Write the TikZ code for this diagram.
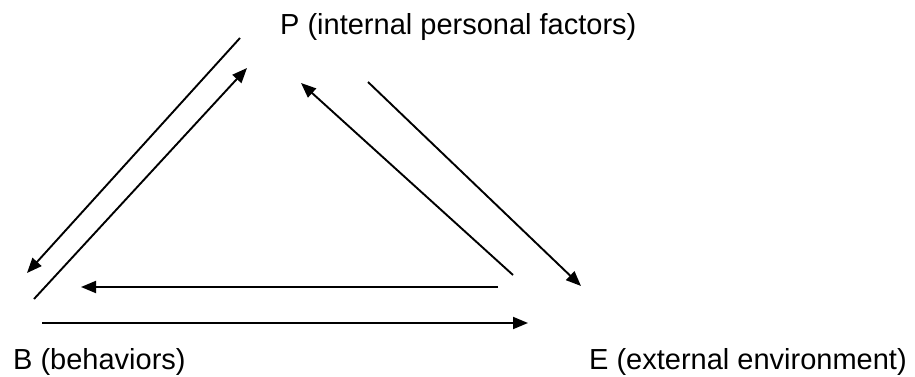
\documentclass[tikz,border=0pt]{standalone}
\usepackage{fontspec}
\setmainfont{Liberation Sans}
\usetikzlibrary{arrows.meta}
\begin{document}
\begin{tikzpicture}[x=1pt,y=-1pt,
  lbl/.style={anchor=base west,inner sep=0pt,font=\fontsize{29pt}{32pt}\selectfont},
  arr/.style={line width=1.9pt,-{Triangle[length=15pt,width=12pt]}}]
\useasboundingbox (0,0) rectangle (915,377);
\node[lbl] (P) at (280,35) {P (internal personal factors)};
\node[lbl] (B) at (13,369) {B (behaviors)};
\node[lbl] (E) at (589,369) {E (external environment)};
\coordinate (a1) at (240,38);  \coordinate (a2) at (27,273);
\coordinate (b1) at (34,299);  \coordinate (b2) at (247,68);
\coordinate (c1) at (513,275); \coordinate (c2) at (301,83);
\coordinate (d1) at (368,82);  \coordinate (d2) at (581,286);
\coordinate (e1) at (498,287); \coordinate (e2) at (81,287);
\coordinate (f1) at (42,323);  \coordinate (f2) at (528,323);
\draw[arr] (a1) -- (a2);
\draw[arr] (b1) -- (b2);
\draw[arr] (c1) -- (c2);
\draw[arr] (d1) -- (d2);
\draw[arr] (e1) -- (e2);
\draw[arr] (f1) -- (f2);
\end{tikzpicture}
\end{document}
